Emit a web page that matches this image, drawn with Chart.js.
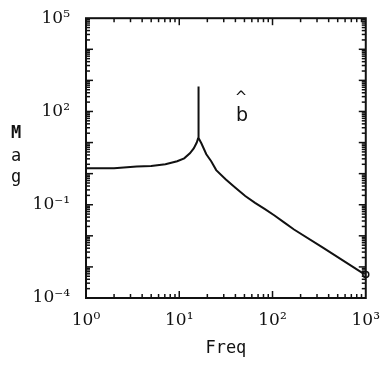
<!DOCTYPE html>
<html>
<head>
<meta charset="utf-8">
<script src="https://cdn.jsdelivr.net/npm/chart.js@4/dist/chart.umd.min.js"></script>
<style>
  html, body { margin: 0; padding: 0; background: #fff; }
  #wrap { width: 384px; height: 365px; }
</style>
</head>
<body>
<div id="wrap"><canvas id="magChart"></canvas></div>
<script>
// frequency response samples (log-log)
const freq = [1, 2, 3.5, 5, 7.1, 9.5, 11.3, 13, 14.3, 15.4, 15.9, 16.0, 16.2, 17.3, 19.5, 22, 24.9, 31.6, 40, 51, 65, 83, 105, 133, 170, 347, 908, 1000];
const mag = [1.5, 1.5, 1.7, 1.75, 2.0, 2.5, 3.1, 4.5, 6.5, 10, 13.5, 630, 14, 9.3, 4.2, 2.5, 1.3, 0.65, 0.35, 0.19, 0.115, 0.072, 0.045, 0.027, 0.016, 0.0042, 0.00066, 0.00057];

const xTicks = [1, 10, 100, 1000];
const yTicks = [1e-4, 1e-1, 1e2, 1e5];
const xTickLabels = ['10⁰', '10¹', '10²', '10³'];
const yTickLabels = ['10⁻⁴', '10⁻¹', '10²', '10⁵'];

const INK = '#111';

// inward ticks on every side of the box, then the box itself
const frameTicks = {
    id: 'frameTicks',
    afterDatasetsDraw(chart) {
        const { ctx, chartArea: a, scales: { x, y } } = chart;
        ctx.save();
        ctx.strokeStyle = INK;
        ctx.lineWidth = 1.5;
        const seg = (x0, y0, x1, y1) => {
            ctx.beginPath();
            ctx.moveTo(x0, y0);
            ctx.lineTo(x1, y1);
            ctx.stroke();
        };
        for (let d = 0; d < 3; d++) {
            for (let m = 1; m < 10; m++) {
                const px = x.getPixelForValue(m * Math.pow(10, d));
                const len = m === 1 ? 7 : 4;
                seg(px, a.bottom, px, a.bottom - len);
                seg(px, a.top, px, a.top + len);
            }
        }
        for (let d = -4; d < 5; d++) {
            for (let m = 1; m < 10; m++) {
                const py = y.getPixelForValue(m * Math.pow(10, d));
                const len = m === 1 ? 7 : 4;
                seg(a.left, py, a.left + len, py);
                seg(a.right, py, a.right - len, py);
            }
        }
        ctx.lineWidth = 2;
        ctx.strokeRect(a.left, a.top, a.right - a.left, a.bottom - a.top);
        ctx.restore();
    },
    afterDraw(chart) {
        const { ctx } = chart;
        ctx.save();
        ctx.fillStyle = INK;
        ctx.textAlign = 'center';
        ctx.textBaseline = 'middle';
        // stacked y label
        ctx.font = 'bold 17px "DejaVu Sans Mono"';
        ctx.fillText('M', 16, 134);
        ctx.font = '17px "DejaVu Sans Mono"';
        ctx.fillText('a', 16, 157);
        ctx.fillText('g', 16, 178);
        // curve tag
        ctx.font = '19px "DejaVu Sans"';
        ctx.fillText('b', 242, 116);
        ctx.font = '15px "DejaVu Sans"';
        ctx.fillText('^', 241, 98);
        ctx.restore();
    }
};

new Chart(document.getElementById('magChart'), {
    type: 'line',
    data: {
        datasets: [{
            data: freq.map((f, i) => ({ x: f, y: mag[i] })),
            borderColor: INK,
            borderWidth: 2,
            tension: 0,
            fill: false,
            clip: false,
            pointRadius: ctx => ctx.dataIndex === freq.length - 1 ? 3 : 0,
            pointBorderWidth: 1.5,
            pointBorderColor: INK,
            pointBackgroundColor: '#fff'
        }]
    },
    options: {
        responsive: true,
        maintainAspectRatio: false,
        animation: false,
        layout: { padding: { top: 16, right: 10, left: 0, bottom: 0 } },
        plugins: {
            legend: { display: false },
            tooltip: { enabled: false }
        },
        scales: {
            x: {
                type: 'logarithmic',
                min: 1,
                max: 1000,
                grid: { display: false },
                border: { display: false },
                afterBuildTicks: s => { s.ticks = xTicks.map(v => ({ value: v })); },
                afterFit: s => { s.height = 67; },
                ticks: {
                    color: INK,
                    padding: 4,
                    maxRotation: 0,
                    autoSkip: false,
                    font: { family: 'DejaVu Serif', size: 17 },
                    callback: (v, i) => xTickLabels[i]
                },
                title: {
                    display: true,
                    text: 'Freq',
                    color: INK,
                    padding: { top: 0, bottom: 6 },
                    font: { family: 'DejaVu Sans Mono', size: 17 }
                }
            },
            y: {
                type: 'logarithmic',
                min: 1e-4,
                max: 1e5,
                grid: { display: false },
                border: { display: false },
                afterBuildTicks: s => { s.ticks = yTicks.map(v => ({ value: v })); },
                afterFit: s => { s.width = 86; },
                ticks: {
                    color: INK,
                    padding: 8,
                    autoSkip: false,
                    font: { family: 'DejaVu Serif', size: 17 },
                    callback: (v, i) => yTickLabels[i]
                }
            }
        }
    },
    plugins: [frameTicks]
});
</script>
</body>
</html>
